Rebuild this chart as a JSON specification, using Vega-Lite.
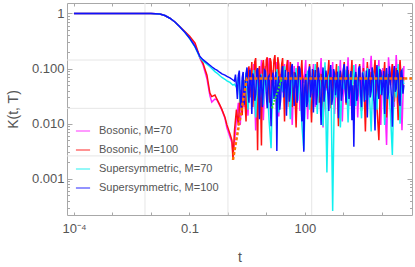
{
  "$schema": "https://vega.github.io/schema/vega-lite/v6.json",
  "width": 345,
  "height": 212,
  "autosize": "none",
  "padding": {"left": 67, "top": 3, "right": 3, "bottom": 52},
  "background": "white",
  "config": {"view": {"stroke": "#a8a8a8", "strokeWidth": 1}, "font": "Liberation Sans"},
  "datasets": {
    "curves": [
      {"t": 0.0001, "B70": 1, "B100": 1, "S70": 1, "S100": 1},
      {"t": 0.001, "B70": 1, "B100": 1, "S70": 1, "S100": 1},
      {"t": 0.005, "B70": 0.999, "B100": 0.999, "S70": 0.999, "S100": 0.999},
      {"t": 0.01, "B70": 0.995, "B100": 0.995, "S70": 0.995, "S100": 0.995},
      {"t": 0.017, "B70": 0.98, "B100": 0.98, "S70": 0.98, "S100": 0.98},
      {"t": 0.023, "B70": 0.92, "B100": 0.92, "S70": 0.92, "S100": 0.92},
      {"t": 0.031, "B70": 0.82, "B100": 0.82, "S70": 0.82, "S100": 0.82},
      {"t": 0.042, "B70": 0.7, "B100": 0.7, "S70": 0.7, "S100": 0.7},
      {"t": 0.056, "B70": 0.575, "B100": 0.58, "S70": 0.575, "S100": 0.575},
      {"t": 0.076, "B70": 0.46, "B100": 0.47, "S70": 0.455, "S100": 0.455},
      {"t": 0.1, "B70": 0.37, "B100": 0.39, "S70": 0.355, "S100": 0.36},
      {"t": 0.14, "B70": 0.27, "B100": 0.29, "S70": 0.245, "S100": 0.25},
      {"t": 0.187, "B70": 0.155, "B100": 0.16, "S70": 0.158, "S100": 0.165},
      {"t": 0.224, "B70": 0.118, "B100": 0.126, "S70": 0.138, "S100": 0.145},
      {"t": 0.285, "B70": 0.065, "B100": 0.076, "S70": 0.12, "S100": 0.127},
      {"t": 0.34, "B70": 0.032, "B100": 0.036, "S70": 0.108, "S100": 0.115},
      {"t": 0.38, "B70": 0.0246, "B100": 0.031, "S70": 0.1, "S100": 0.108},
      {"t": 0.459, "B70": 0.028, "B100": 0.033, "S70": 0.088, "S100": 0.098},
      {"t": 0.517, "B70": 0.027, "B100": 0.028, "S70": 0.083, "S100": 0.094},
      {"t": 0.619, "B70": 0.021, "B100": 0.0217, "S70": 0.074, "S100": 0.085},
      {"t": 0.698, "B70": 0.0176, "B100": 0.018, "S70": 0.069, "S100": 0.08},
      {"t": 0.835, "B70": 0.0125, "B100": 0.0131, "S70": 0.064, "S100": 0.076},
      {"t": 0.942, "B70": 0.0083, "B100": 0.0095, "S70": 0.06, "S100": 0.072},
      {"t": 1.13, "B70": 0.0057, "B100": 0.0065, "S70": 0.056, "S100": 0.068},
      {"t": 1.27, "B70": 0.0045, "B100": 0.005, "S70": 0.052, "S100": 0.064},
      {"t": 1.35, "B70": 0.0029, "B100": 0.0022, "S70": 0.05, "S100": 0.062},
      {"t": 1.479, "B70": 0.0045, "B100": 0.0076, "S70": 0.052, "S100": 0.059},
      {"t": 1.66, "B70": 0.012, "B100": 0.018, "S70": 0.046, "S100": 0.05},
      {"t": 1.862, "B70": 0.024, "B100": 0.0093, "S70": 0.07, "S100": 0.075},
      {"t": 2.089, "B70": 0.0095, "B100": 0.041, "S70": 0.024, "S100": 0.03},
      {"t": 2.344, "B70": 0.048, "B100": 0.0143, "S70": 0.062, "S100": 0.068},
      {"t": 2.63, "B70": 0.02, "B100": 0.062, "S70": 0.035, "S100": 0.022},
      {"t": 2.951, "B70": 0.067, "B100": 0.011, "S70": 0.085, "S100": 0.08},
      {"t": 3.311, "B70": 0.014, "B100": 0.08, "S70": 0.018, "S100": 0.041},
      {"t": 3.715, "B70": 0.102, "B100": 0.03, "S70": 0.072, "S100": 0.095},
      {"t": 4.169, "B70": 0.035, "B100": 0.131, "S70": 0.04, "S100": 0.015},
      {"t": 4.677, "B70": 0.121, "B100": 0.04, "S70": 0.094, "S100": 0.07},
      {"t": 5.248, "B70": 0.0075, "B100": 0.155, "S70": 0.013, "S100": 0.034},
      {"t": 5.888, "B70": 0.087, "B100": 0.0033, "S70": 0.066, "S100": 0.102},
      {"t": 6.607, "B70": 0.03, "B100": 0.111, "S70": 0.03, "S100": 0.012},
      {"t": 7.413, "B70": 0.143, "B100": 0.004, "S70": 0.08, "S100": 0.062},
      {"t": 8.318, "B70": 0.0115, "B100": 0.143, "S70": 0.022, "S100": 0.044},
      {"t": 9.333, "B70": 0.111, "B100": 0.05, "S70": 0.09, "S100": 0.09},
      {"t": 10.47, "B70": 0.04, "B100": 0.161, "S70": 0.045, "S100": 0.019},
      {"t": 11.75, "B70": 0.155, "B100": 0.024, "S70": 0.011, "S100": 0.075},
      {"t": 13.18, "B70": 0.019, "B100": 0.131, "S70": 0.0036, "S100": 0.009},
      {"t": 14.79, "B70": 0.094, "B100": 0.067, "S70": 0.075, "S100": 0.085},
      {"t": 16.6, "B70": 0.052, "B100": 0.176, "S70": 0.028, "S100": 0.04},
      {"t": 18.62, "B70": 0.131, "B100": 0.015, "S70": 0.098, "S100": 0.0032},
      {"t": 20.89, "B70": 0.0135, "B100": 0.121, "S70": 0.016, "S100": 0.072},
      {"t": 23.44, "B70": 0.08, "B100": 0.057, "S70": 0.064, "S100": 0.028},
      {"t": 26.3, "B70": 0.037, "B100": 0.155, "S70": 0.038, "S100": 0.111},
      {"t": 29.51, "B70": 0.121, "B100": 0.011, "S70": 0.11, "S100": 0.048},
      {"t": 33.11, "B70": 0.024, "B100": 0.102, "S70": 0.02, "S100": 0.014},
      {"t": 37.15, "B70": 0.143, "B100": 0.044, "S70": 0.078, "S100": 0.087},
      {"t": 41.69, "B70": 0.062, "B100": 0.131, "S70": 0.012, "S100": 0.037},
      {"t": 46.77, "B70": 0.0095, "B100": 0.02, "S70": 0.088, "S100": 0.121},
      {"t": 52.48, "B70": 0.111, "B100": 0.087, "S70": 0.045, "S100": 0.021},
      {"t": 58.88, "B70": 0.044, "B100": 0.0085, "S70": 0.102, "S100": 0.067},
      {"t": 66.07, "B70": 0.131, "B100": 0.111, "S70": 0.026, "S100": 0.05},
      {"t": 74.13, "B70": 0.017, "B100": 0.052, "S70": 0.07, "S100": 0.098},
      {"t": 83.18, "B70": 0.087, "B100": 0.143, "S70": 0.0095, "S100": 0.011},
      {"t": 93.33, "B70": 0.055, "B100": 0.016, "S70": 0.0033, "S100": 0.0031},
      {"t": 104.7, "B70": 0.143, "B100": 0.073, "S70": 0.06, "S100": 0.08},
      {"t": 117.5, "B70": 0.012, "B100": 0.034, "S70": 0.092, "S100": 0.026},
      {"t": 131.8, "B70": 0.094, "B100": 0.121, "S70": 0.018, "S100": 0.11},
      {"t": 147.9, "B70": 0.033, "B100": 0.0105, "S70": 0.073, "S100": 0.044},
      {"t": 166, "B70": 0.121, "B100": 0.094, "S70": 0.035, "S100": 0.016},
      {"t": 186.2, "B70": 0.02, "B100": 0.062, "S70": 0.121, "S100": 0.094},
      {"t": 208.9, "B70": 0.08, "B100": 0.131, "S70": 0.015, "S100": 0.034},
      {"t": 234.4, "B70": 0.048, "B100": 0.024, "S70": 0.083, "S100": 0.073},
      {"t": 263, "B70": 0.155, "B100": 0.08, "S70": 0.04, "S100": 0.0095},
      {"t": 295.1, "B70": 0.0085, "B100": 0.0125, "S70": 0.009, "S100": 0.105},
      {"t": 331.1, "B70": 0.111, "B100": 0.102, "S70": 0.13, "S100": 0.041},
      {"t": 371.5, "B70": 0.04, "B100": 0.044, "S70": 0.0013, "S100": 0.062},
      {"t": 416.9, "B70": 0.087, "B100": 0.143, "S70": 0.072, "S100": 0.017},
      {"t": 467.7, "B70": 0.024, "B100": 0.019, "S70": 0.098, "S100": 0.116},
      {"t": 524.8, "B70": 0.131, "B100": 0.07, "S70": 0.00026, "S100": 0.03},
      {"t": 588.8, "B70": 0.015, "B100": 0.037, "S70": 0.078, "S100": 0.08},
      {"t": 660.7, "B70": 0.067, "B100": 0.121, "S70": 0.03, "S100": 0.052},
      {"t": 741.3, "B70": 0.05, "B100": 0.009, "S70": 0.111, "S100": 0.0125},
      {"t": 831.8, "B70": 0.143, "B100": 0.087, "S70": 0.0085, "S100": 0.092},
      {"t": 933.3, "B70": 0.011, "B100": 0.055, "S70": 0.064, "S100": 0.036},
      {"t": 1047, "B70": 0.102, "B100": 0.131, "S70": 0.042, "S100": 0.121},
      {"t": 1175, "B70": 0.037, "B100": 0.022, "S70": 0.094, "S100": 0.024},
      {"t": 1318, "B70": 0.161, "B100": 0.094, "S70": 0.0105, "S100": 0.071},
      {"t": 1479, "B70": 0.021, "B100": 0.04, "S70": 0.08, "S100": 0.046},
      {"t": 1660, "B70": 0.08, "B100": 0.143, "S70": 0.033, "S100": 0.0115},
      {"t": 1862, "B70": 0.052, "B100": 0.014, "S70": 0.116, "S100": 0.0038},
      {"t": 2089, "B70": 0.121, "B100": 0.08, "S70": 0.021, "S100": 0.087},
      {"t": 2344, "B70": 0.013, "B100": 0.048, "S70": 0.07, "S100": 0.033},
      {"t": 2630, "B70": 0.094, "B100": 0.121, "S70": 0.048, "S100": 0.111},
      {"t": 2951, "B70": 0.043, "B100": 0.017, "S70": 0.0125, "S100": 0.02},
      {"t": 3311, "B70": 0.155, "B100": 0.102, "S70": 0.088, "S100": 0.066},
      {"t": 3715, "B70": 0.018, "B100": 0.0072, "S70": 0.027, "S100": 0.048},
      {"t": 4169, "B70": 0.111, "B100": 0.131, "S70": 0.102, "S100": 0.013},
      {"t": 4677, "B70": 0.062, "B100": 0.033, "S70": 0.04, "S100": 0.098},
      {"t": 5248, "B70": 0.17, "B100": 0.087, "S70": 0.0072, "S100": 0.039},
      {"t": 5888, "B70": 0.026, "B100": 0.055, "S70": 0.085, "S100": 0.074},
      {"t": 6607, "B70": 0.087, "B100": 0.143, "S70": 0.05, "S100": 0.0075},
      {"t": 7413, "B70": 0.046, "B100": 0.02, "S70": 0.018, "S100": 0.116},
      {"t": 8318, "B70": 0.143, "B100": 0.005, "S70": 0.11, "S100": 0.028},
      {"t": 9333, "B70": 0.0095, "B100": 0.094, "S70": 0.034, "S100": 0.085},
      {"t": 10470, "B70": 0.102, "B100": 0.04, "S70": 0.075, "S100": 0.052},
      {"t": 11750, "B70": 0.035, "B100": 0.131, "S70": 0.0095, "S100": 0.015},
      {"t": 13180, "B70": 0.0041, "B100": 0.013, "S70": 0.092, "S100": 0.102},
      {"t": 14790, "B70": 0.161, "B100": 0.08, "S70": 0.044, "S100": 0.037},
      {"t": 16600, "B70": 0.055, "B100": 0.05, "S70": 0.016, "S100": 0.068},
      {"t": 18620, "B70": 0.121, "B100": 0.121, "S70": 0.0027, "S100": 0.0088},
      {"t": 20890, "B70": 0.02, "B100": 0.025, "S70": 0.08, "S100": 0.111},
      {"t": 23440, "B70": 0.176, "B100": 0.102, "S70": 0.03, "S100": 0.043},
      {"t": 26300, "B70": 0.044, "B100": 0.0115, "S70": 0.121, "S100": 0.08},
      {"t": 29510, "B70": 0.131, "B100": 0.143, "S70": 0.01, "S100": 0.021},
      {"t": 33110, "B70": 0.0076, "B100": 0.037, "S70": 0.07, "S100": 0.094},
      {"t": 37150, "B70": 0.111, "B100": 0.07, "S70": 0.052, "S100": 0.05},
      {"t": 1.567, "S100": 0.078},
      {"t": 1.758, "S100": 0.028},
      {"t": 1.972, "S100": 0.092},
      {"t": 2.213, "S100": 0.019},
      {"t": 2.483, "S100": 0.087, "B100": 0.035},
      {"t": 2.786, "S100": 0.04, "B100": 0.024},
      {"t": 3.126, "S100": 0.105, "B100": 0.06},
      {"t": 3.508, "S100": 0.024, "B100": 0.11},
      {"t": 3.936, "S100": 0.06, "B100": 0.07},
      {"t": 4.416, "S100": 0.082, "B100": 0.02},
      {"t": 4.955, "S100": 0.026, "B100": 0.131},
      {"t": 5.559, "S100": 0.09, "B100": 0.05},
      {"t": 6.237, "S100": 0.045, "B100": 0.09},
      {"t": 6.998, "S100": 0.078, "B100": 0.03},
      {"t": 7.852, "S100": 0.02, "B100": 0.111},
      {"t": 8.81, "S100": 0.095, "B100": 0.08},
      {"t": 9.886, "S100": 0.035, "B100": 0.143},
      {"t": 11.09, "S100": 0.07, "B100": 0.06},
      {"t": 12.45, "S100": 0.03, "B100": 0.155},
      {"t": 13.96, "S100": 0.06, "B100": 0.04},
      {"t": 15.67, "S100": 0.028, "B100": 0.143},
      {"t": 17.58, "S100": 0.088, "B100": 0.07},
      {"t": 19.72, "S100": 0.05, "B100": 0.161},
      {"t": 22.13, "S100": 0.018, "B100": 0.035},
      {"t": 24.83, "S100": 0.085, "B100": 0.121},
      {"t": 27.86, "S100": 0.03, "B100": 0.05},
      {"t": 31.26, "S100": 0.094, "B100": 0.087},
      {"t": 35.08, "S100": 0.06, "B100": 0.143},
      {"t": 39.36, "S100": 0.025, "B100": 0.02},
      {"t": 44.16, "S100": 0.102, "B100": 0.08},
      {"t": 49.55, "S100": 0.04},
      {"t": 55.59, "S100": 0.085},
      {"t": 62.37, "S100": 0.024},
      {"t": 69.98, "S100": 0.11},
      {"t": 78.52, "S100": 0.038},
      {"t": 88.1, "S100": 0.066},
      {"t": 98.86, "S100": 0.045},
      {"t": 110.9, "S100": 0.02},
      {"t": 124.5, "S100": 0.087},
      {"t": 139.6, "S100": 0.03},
      {"t": 156.7, "S100": 0.098},
      {"t": 175.8, "S100": 0.06},
      {"t": 197.2, "S100": 0.022},
      {"t": 221.3, "S100": 0.105},
      {"t": 248.3, "S100": 0.03},
      {"t": 278.6, "S100": 0.062},
      {"t": 312.6, "S100": 0.025},
      {"t": 350.8, "S100": 0.092},
      {"t": 393.6, "S100": 0.035},
      {"t": 441.6, "S100": 0.075},
      {"t": 495.5, "S100": 0.022},
      {"t": 555.9, "S100": 0.098},
      {"t": 623.7, "S100": 0.033},
      {"t": 699.8, "S100": 0.088},
      {"t": 785.2, "S100": 0.06},
      {"t": 881, "S100": 0.026},
      {"t": 988.6, "S100": 0.094},
      {"t": 1109, "S100": 0.04},
      {"t": 1245, "S100": 0.11},
      {"t": 1396, "S100": 0.028},
      {"t": 1567, "S100": 0.09},
      {"t": 1758, "S100": 0.05},
      {"t": 1972, "S100": 0.065},
      {"t": 2213, "S100": 0.026},
      {"t": 2483, "S100": 0.1},
      {"t": 2786, "S100": 0.036},
      {"t": 3126, "S100": 0.085},
      {"t": 3508, "S100": 0.025},
      {"t": 3936, "S100": 0.092},
      {"t": 4416, "S100": 0.06},
      {"t": 4955, "S100": 0.03},
      {"t": 5559, "S100": 0.105},
      {"t": 6237, "S100": 0.024},
      {"t": 6998, "S100": 0.07},
      {"t": 7852, "S100": 0.042},
      {"t": 8810, "S100": 0.098},
      {"t": 9886, "S100": 0.033},
      {"t": 11090, "S100": 0.09},
      {"t": 12450, "S100": 0.065},
      {"t": 13960, "S100": 0.028},
      {"t": 15670, "S100": 0.11},
      {"t": 17580, "S100": 0.03},
      {"t": 19720, "S100": 0.076},
      {"t": 22130, "S100": 0.038},
      {"t": 24830, "S100": 0.094},
      {"t": 27860, "S100": 0.026},
      {"t": 31260, "S100": 0.088},
      {"t": 35080, "S100": 0.035}
    ],
    "orange": [{"t": 1.35, "k": 0.0022}, {"t": 3.1, "k": 0.066}, {"t": 60000, "k": 0.066}],
    "green": [{"t": 13.9, "k": 0.019}, {"t": 25.3, "k": 0.067}],
    "gridx": [{"gx": 0.007}, {"gx": 1}, {"gx": 150}],
    "gridy": [{"gy": 0.143}, {"gy": 0.019}, {"gy": 0.0026}]
  },
  "resolve": {"axis": {"x": "independent", "y": "independent"}},
  "layer": [
    {
      "data": {"name": "gridx"},
      "mark": {"type": "rule", "color": "#e6e6e6", "strokeWidth": 1},
      "encoding": {
        "x": {"field": "gx", "type": "quantitative", "scale": {"type": "log", "domain": [0.000066, 60300], "nice": false}, "axis": null}
      }
    },
    {
      "data": {"name": "gridy"},
      "mark": {"type": "rule", "color": "#e6e6e6", "strokeWidth": 1},
      "encoding": {
        "y": {"field": "gy", "type": "quantitative", "scale": {"type": "log", "domain": [0.00022, 1.55], "nice": false}, "axis": null}
      }
    },
    {
      "data": {"name": "curves"},
      "transform": [
        {"fold": ["B70", "B100", "S70", "S100"], "as": ["s", "k"]},
        {"filter": "isValid(datum.k)"}
      ],
      "mark": {"type": "line", "strokeWidth": 1.5, "clip": true},
      "encoding": {
        "x": {
          "field": "t", "type": "quantitative",
          "scale": {"type": "log", "domain": [0.000066, 60300], "nice": false},
          "axis": {
            "orient": "bottom",
            "values": [0.0001, 0.001, 0.01, 0.1, 1, 10, 100, 1000, 10000],
            "labelExpr": "datum.value == 0.0001 ? '10⁻⁴' : datum.value == 0.1 ? '0.1' : datum.value == 100 ? '100' : ''",
            "grid": false, "domain": false,
            "tickSize": -3, "tickColor": "#a8a8a8",
            "labelFontSize": 13, "labelColor": "#555555", "labelPadding": 10,
            "labelOverlap": false, "labelFlush": false, "labelBound": false,
            "title": "t", "titleFontSize": 14, "titleFontWeight": "normal", "titleColor": "#555555",
            "titleBaseline": "alphabetic", "titleY": 46
          }
        },
        "y": {
          "field": "k", "type": "quantitative",
          "scale": {"type": "log", "domain": [0.00022, 1.55], "nice": false},
          "axis": {
            "orient": "left",
            "values": [0.0003, 0.0004, 0.0005, 0.0006, 0.0007, 0.0008, 0.0009, 0.001, 0.002, 0.003, 0.004, 0.005, 0.006, 0.007, 0.008, 0.009, 0.01, 0.02, 0.03, 0.04, 0.05, 0.06, 0.07, 0.08, 0.09, 0.1, 0.2, 0.3, 0.4, 0.5, 0.6, 0.7, 0.8, 0.9, 1],
            "labelExpr": "datum.value == 1 ? '1' : datum.value == 0.1 ? '0.100' : datum.value == 0.01 ? '0.010' : datum.value == 0.001 ? '0.001' : ''",
            "grid": false, "domain": false,
            "tickSize": {"condition": {"test": "datum.value == 1 || datum.value == 0.1 || datum.value == 0.01 || datum.value == 0.001", "value": -5}, "value": -2.5},
            "tickColor": "#a8a8a8",
            "labelFontSize": 13, "labelColor": "#555555", "labelPadding": 8,
            "labelOverlap": false, "labelFlush": false, "labelBound": false,
            "title": "K(t, T)", "titleFontSize": 14, "titleFontWeight": "normal", "titleColor": "#555555",
            "titleX": -47, "titleY": 106
          }
        },
        "color": {
          "field": "s", "type": "nominal",
          "scale": {"domain": ["B70", "B100", "S70", "S100"], "range": ["#ff20ff", "#ff1010", "#10f0f0", "#1010ff"]},
          "legend": {
            "orient": "none", "legendX": 8, "legendY": 120, "title": null,
            "symbolType": "stroke", "symbolSize": 200, "symbolStrokeWidth": 1.5, "symbolOpacity": 0.6,
            "labelFontSize": 11, "labelColor": "#555555", "rowPadding": 6, "labelOffset": 8,
            "labelExpr": "datum.label == 'B70' ? 'Bosonic, M=70' : datum.label == 'B100' ? 'Bosonic, M=100' : datum.label == 'S70' ? 'Supersymmetric, M=70' : 'Supersymmetric, M=100'"
          }
        }
      }
    },
    {
      "data": {"name": "orange"},
      "mark": {"type": "line", "color": "#ff7000", "strokeWidth": 2.5, "strokeDash": [3, 2]},
      "encoding": {
        "x": {"field": "t", "type": "quantitative", "scale": {"type": "log", "domain": [0.000066, 60300], "nice": false}, "axis": null},
        "y": {"field": "k", "type": "quantitative", "scale": {"type": "log", "domain": [0.00022, 1.55], "nice": false}, "axis": null}
      }
    },
    {
      "data": {"name": "green"},
      "mark": {"type": "line", "color": "#33dd33", "strokeWidth": 2, "strokeDash": [2, 1.5]},
      "encoding": {
        "x": {"field": "t", "type": "quantitative", "scale": {"type": "log", "domain": [0.000066, 60300], "nice": false}, "axis": null},
        "y": {"field": "k", "type": "quantitative", "scale": {"type": "log", "domain": [0.00022, 1.55], "nice": false}, "axis": null}
      }
    },
    {
      "data": {"name": "orange"},
      "mark": {"type": "point", "opacity": 0},
      "encoding": {
        "x": {
          "field": "t", "type": "quantitative",
          "scale": {"type": "log", "domain": [0.000066, 60300], "nice": false},
          "axis": {"orient": "top", "values": [0.0001, 0.001, 0.01, 0.1, 1, 10, 100, 1000, 10000], "labels": false, "domain": false, "grid": false, "tickSize": -3, "tickColor": "#a8a8a8", "title": null}
        },
        "y": {
          "field": "k", "type": "quantitative",
          "scale": {"type": "log", "domain": [0.00022, 1.55], "nice": false},
          "axis": {
            "orient": "right",
            "values": [0.0003, 0.0004, 0.0005, 0.0006, 0.0007, 0.0008, 0.0009, 0.001, 0.002, 0.003, 0.004, 0.005, 0.006, 0.007, 0.008, 0.009, 0.01, 0.02, 0.03, 0.04, 0.05, 0.06, 0.07, 0.08, 0.09, 0.1, 0.2, 0.3, 0.4, 0.5, 0.6, 0.7, 0.8, 0.9, 1],
            "labels": false, "domain": false, "grid": false,
            "tickSize": {"condition": {"test": "datum.value == 1 || datum.value == 0.1 || datum.value == 0.01 || datum.value == 0.001", "value": -5}, "value": -2.5},
            "tickColor": "#a8a8a8", "title": null
          }
        }
      }
    }
  ]
}
